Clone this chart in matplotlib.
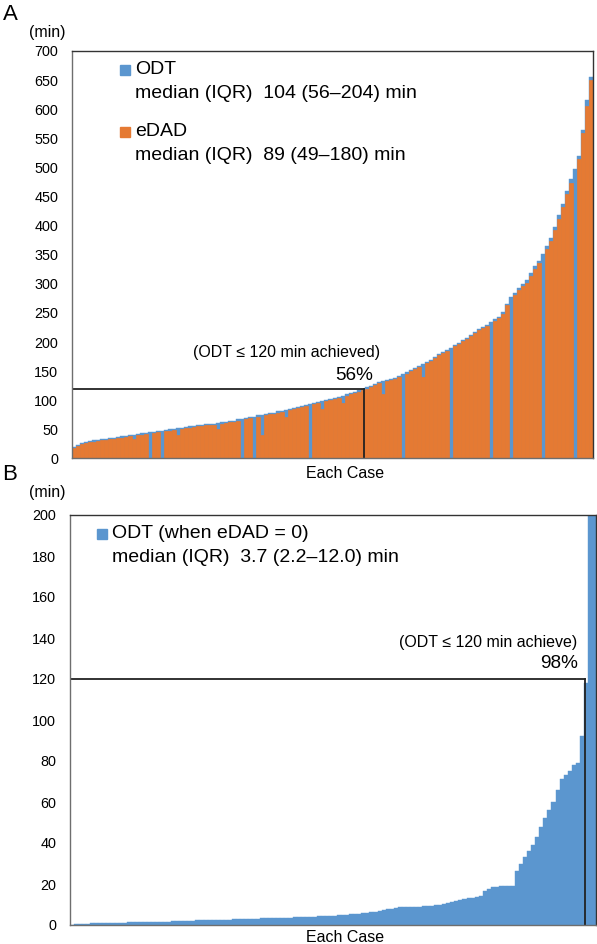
import matplotlib
matplotlib.use('Agg')
import matplotlib.pyplot as plt
from matplotlib.patches import Rectangle
import numpy as np

plt.rcParams['font.family'] = ['Liberation Sans', 'DejaVu Sans']

# panel A: each case sorted by ODT (min), eDAD drawn on top
odt_a = [20, 24, 27, 29, 30, 31, 32, 33, 34, 35,
         36, 37, 38, 39, 40, 41, 42, 43, 44, 45,
         46, 47, 48, 49, 50, 51, 52, 53, 54, 55,
         56, 57, 58, 59, 59, 60, 61, 62, 63, 64,
         65, 67, 68, 70, 71, 72, 74, 75, 76, 78,
         79, 81, 82, 84, 85, 87, 88, 90, 92, 93,
         95, 97, 98, 100, 102, 104, 106, 108, 110, 112,
         115, 117, 119, 122, 125, 128, 131, 133, 135, 137,
         139, 142, 145, 148, 152, 155, 159, 163, 166, 170,
         175, 179, 183, 186, 190, 195, 199, 203, 207, 212,
         217, 222, 226, 230, 235, 239, 243, 252, 266, 277,
         285, 293, 300, 306, 318, 330, 340, 352, 365, 378,
         398, 418, 438, 460, 480, 498, 520, 565, 615, 655]
edad_a = [18, 22, 25, 27, 28, 29, 30, 31, 32, 33,
          34, 35, 36, 37, 38, 33, 40, 41, 42, 0,
          44, 45, 0, 47, 48, 49, 40, 51, 52, 53,
          54, 55, 56, 57, 57, 58, 50, 60, 61, 62,
          63, 65, 0, 68, 69, 0, 72, 40, 74, 76,
          77, 79, 80, 72, 83, 85, 86, 88, 90, 0,
          93, 95, 85, 98, 100, 102, 104, 95, 108, 110,
          113, 115, 117, 120, 123, 126, 129, 110, 133, 135,
          137, 140, 0, 146, 150, 153, 157, 140, 164, 168,
          173, 177, 181, 184, 0, 193, 197, 201, 205, 210,
          215, 220, 224, 228, 0, 237, 241, 249, 263, 0,
          281, 289, 296, 302, 314, 326, 336, 0, 360, 373,
          392, 412, 432, 454, 474, 0, 514, 560, 605, 650]

# panel B: ODT when eDAD = 0, sorted
odt_b = [0.2, 0.4, 0.5, 0.6, 0.7, 0.8, 0.9, 0.9, 1.0, 1.0,
         1.1, 1.1, 1.2, 1.2, 1.3, 1.3, 1.3, 1.4, 1.4, 1.5,
         1.5, 1.6, 1.6, 1.7, 1.7, 1.8, 1.8, 1.9, 1.9, 2.0,
         2.1, 2.2, 2.2, 2.3, 2.3, 2.4, 2.4, 2.5, 2.6, 2.6,
         2.7, 2.8, 2.8, 2.9, 3.0, 3.0, 3.1, 3.2, 3.3, 3.3,
         3.4, 3.5, 3.5, 3.6, 3.6, 3.7, 3.7, 3.8, 3.9, 4.0,
         4.1, 4.2, 4.3, 4.4, 4.5, 4.6, 4.8, 4.9, 5.0, 5.2,
         5.4, 5.6, 5.8, 6.0, 6.3, 6.5, 6.8, 7.2, 7.6, 8.0,
         8.4, 8.7, 8.8, 8.9, 8.9, 9.0, 9.0, 9.1, 9.2, 9.3,
         9.6, 9.9, 10.3, 10.8, 11.3, 11.8, 12.2, 12.6, 13.0, 13.4,
         13.8, 14.1, 16.5, 17.5, 18.5, 18.7, 18.8, 18.9, 19.0, 19.0,
         26.5, 30, 33, 36, 39, 43, 48, 52, 56, 60,
         66, 71, 73, 75, 78, 79, 92, 118, 200, 200]

achieved_a = 0.56
achieved_b = 0.98
blue = '#5b96cf'
orange = '#e57a33'
spine_col = '#6e6e6e'

W, H = 597, 944
fig = plt.figure(figsize=(W / 100, H / 100), dpi=100)


def fx(x):
    return x / W


def fy(y):
    return 1 - y / H


def style(ax, ymax, step):
    ax.set_ylim(0, ymax)
    ax.set_yticks(range(0, ymax + 1, step))
    ax.set_xticks([])
    ax.tick_params(axis='y', length=0, pad=10, labelsize=10.4)
    for s in ax.spines.values():
        s.set_color(spine_col)
        s.set_linewidth(1.0)
    ax.spines['top'].set_color('#333333')
    ax.spines['right'].set_color('#333333')


# ---- panel A ----
axA = fig.add_axes([fx(72), fy(458.5), fx(521), 407.5 / H])
n = len(odt_a)
xa = np.arange(n)
axA.bar(xa, odt_a, width=1.0, color=blue, edgecolor=blue, linewidth=0.3)
axA.bar(xa, edad_a, width=1.0, color=orange, edgecolor=orange, linewidth=0.5)
axA.set_xlim(-0.5, n - 0.5)
style(axA, 700, 50)
xv = -0.5 + achieved_a * n
axA.plot([-0.5, xv], [120, 120], color='#222222', lw=1.3)
axA.plot([xv, xv], [0, 120], color='#222222', lw=1.3)

fig.text(fx(10), fy(14), 'A', fontsize=16, ha='center', va='center')
fig.text(fx(47), fy(32), '(min)', fontsize=11.5, ha='center', va='center')
fig.text(fx(345), fy(473), 'Each Case', fontsize=11.5, ha='center', va='center')
fig.text(fx(287), fy(353), '(ODT \u2264 120 min achieved)', fontsize=11.5,
         ha='center', va='center')
fig.text(fx(373), fy(376), '56%', fontsize=13.7, ha='right', va='center')

fig.add_artist(Rectangle((fx(120), fy(75)), fx(10), 10 / H,
                         transform=fig.transFigure, color=blue))
fig.text(fx(135), fy(70), 'ODT', fontsize=14, va='center')
fig.text(fx(135), fy(94), 'median (IQR)  104 (56\u2013204) min', fontsize=14, va='center')
fig.add_artist(Rectangle((fx(120), fy(137)), fx(10), 10 / H,
                         transform=fig.transFigure, color=orange))
fig.text(fx(135), fy(132), 'eDAD', fontsize=14, va='center')
fig.text(fx(135), fy(155), 'median (IQR)  89 (49\u2013180) min', fontsize=14, va='center')

# ---- panel B ----
axB = fig.add_axes([fx(70), fy(925), fx(526), 410 / H])
m = len(odt_b)
xb = np.arange(m)
axB.bar(xb, odt_b, width=1.0, color=blue, edgecolor=blue, linewidth=0.3)
axB.set_xlim(-0.5, m - 0.5)
style(axB, 200, 20)
xv = -0.5 + achieved_b * m
axB.plot([-0.5, xv], [120, 120], color='#222222', lw=1.3)
axB.plot([xv, xv], [0, 120], color='#222222', lw=1.3)

fig.text(fx(10), fy(474), 'B', fontsize=16, ha='center', va='center')
fig.text(fx(47), fy(493), '(min)', fontsize=11.5, ha='center', va='center')
fig.text(fx(345), fy(937), 'Each Case', fontsize=11.5, ha='center', va='center')
fig.text(fx(577), fy(642), '(ODT \u2264 120 min achieve)', fontsize=11.5,
         ha='right', va='center')
fig.text(fx(578), fy(663), '98%', fontsize=13.7, ha='right', va='center')

fig.add_artist(Rectangle((fx(97), fy(539)), fx(10), 10 / H,
                         transform=fig.transFigure, color=blue))
fig.text(fx(112), fy(534), 'ODT (when eDAD = 0)', fontsize=14, va='center')
fig.text(fx(112), fy(557), 'median (IQR)  3.7 (2.2\u201312.0) min', fontsize=14, va='center')

fig.savefig('out.png', dpi=100)
